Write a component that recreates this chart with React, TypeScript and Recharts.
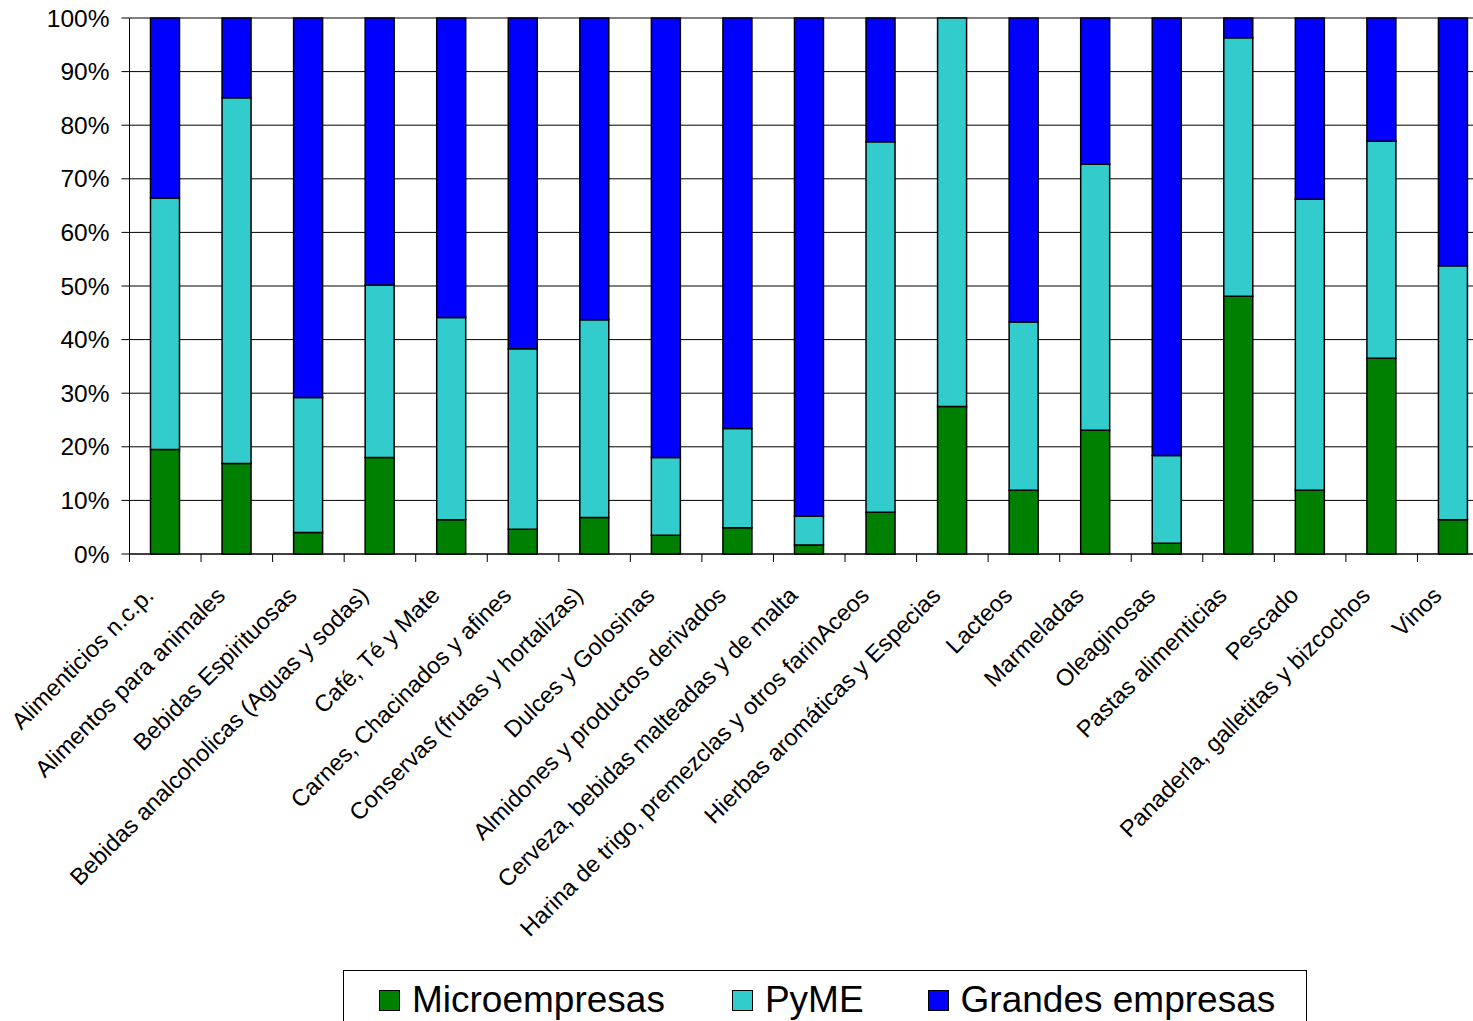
import { Bar, BarChart, CartesianGrid, XAxis, YAxis } from "recharts";

const categories = [
  "Alimenticios n.c.p.",
  "Alimentos para animales",
  "Bebidas Espirituosas",
  "Bebidas analcoholicas (Aguas y sodas)",
  "Café, Té y Mate",
  "Carnes, Chacinados y afines",
  "Conservas (frutas y hortalizas)",
  "Dulces y Golosinas",
  "Almidones y productos derivados",
  "Cerveza, bebidas malteadas y de malta",
  "Harina de trigo, premezclas y otros farinAceos",
  "Hierbas aromáticas y Especias",
  "Lacteos",
  "Marmeladas",
  "Oleaginosas",
  "Pastas alimenticias",
  "Pescado",
  "Panaderla, galletitas y bizcochos",
  "Vinos",
];

const micro = [19.5, 16.9, 4.0, 18.0, 6.4, 4.6, 6.8, 3.5, 4.9, 1.7, 7.8, 27.5, 11.9, 23.1, 2.0, 48.1, 11.9, 36.5, 6.4];
const pyme = [46.9, 68.2, 25.2, 32.2, 37.7, 33.7, 36.9, 14.5, 18.5, 5.4, 69.1, 72.5, 31.4, 49.6, 16.4, 48.2, 54.3, 40.5, 47.4];
const grandes = [33.6, 14.9, 70.8, 49.8, 55.9, 61.7, 56.3, 82.0, 76.6, 92.9, 23.1, 0, 56.7, 27.3, 81.6, 3.7, 33.8, 23.0, 46.2];

const yTicks = [0, 0.1, 0.2, 0.3, 0.4, 0.5, 0.6, 0.7, 0.8, 0.9, 1];

const series = [
  { key: "micro", name: "Microempresas", color: "#008000" },
  { key: "pyme", name: "PyME", color: "#33CCCC" },
  { key: "grandes", name: "Grandes empresas", color: "#0000FF" },
];

const data = categories.map((name, i) => ({
  name,
  micro: micro[i],
  pyme: pyme[i],
  grandes: grandes[i],
}));

const FONT = "'Liberation Sans', Arial, sans-serif";

function CategoryTick(props: any) {
  const { x, y, payload, index } = props;
  const half = payload?.offset ?? 0;
  return (
    <g>
      <line x1={x - half} x2={x - half} y1={y} y2={y + 8} stroke="#000" />
      {index === categories.length - 1 && (
        <line x1={x + half} x2={x + half} y1={y} y2={y + 8} stroke="#000" />
      )}
      <g transform={`translate(${x - 16},${y + 37})`}>
        <text
          textAnchor="end"
          transform="rotate(-45)"
          dy="0.35em"
          fontSize={23.5}
          fontFamily={FONT}
          fill="#000"
        >
          {payload.value}
        </text>
      </g>
    </g>
  );
}

export default function App() {
  return (
    <div
      style={{
        position: "absolute",
        left: 0,
        top: 0,
        width: 1473,
        height: 1021,
        overflow: "hidden",
        background: "#fff",
      }}
    >
      <BarChart
        width={1495}
        height={1021}
        data={data}
        stackOffset="expand"
        barSize={29}
        margin={{ top: 18, right: 6, left: 0, bottom: 0 }}
      >
        <CartesianGrid vertical={false} stroke="#000" horizontalValues={yTicks} />
        <XAxis
          dataKey="name"
          interval={0}
          height={467}
          tickLine={false}
          tickSize={0}
          tickMargin={0}
          axisLine={{ stroke: "#000" }}
          tick={<CategoryTick />}
        />
        <YAxis
          width={129.5}
          domain={[0, 1]}
          ticks={yTicks}
          tickSize={8}
          tickMargin={12}
          axisLine={{ stroke: "#000" }}
          tickLine={{ stroke: "#000" }}
          tickFormatter={(v: number) => `${Math.round(v * 100)}%`}
          tick={{ fontSize: 24.5, fontFamily: FONT, fill: "#000" }}
        />
        {series.map((s) => (
          <Bar
            key={s.key}
            dataKey={s.key}
            name={s.name}
            stackId="a"
            fill={s.color}
            stroke="#000"
            strokeWidth={1.5}
            isAnimationActive={false}
          />
        ))}
      </BarChart>
      <div
        style={{
          position: "absolute",
          left: 343,
          top: 970,
          width: 964,
          height: 70,
          border: "1px solid #000",
          boxSizing: "border-box",
          display: "flex",
          alignItems: "center",
          paddingLeft: 35,
          paddingBottom: 10,
          fontFamily: FONT,
          fontSize: 37,
          color: "#000",
          background: "#fff",
        }}
      >
        {series.map((s, i) => (
          <div
            key={s.key}
            style={{
              display: "flex",
              alignItems: "center",
              marginLeft: i === 0 ? 0 : i === 1 ? 67 : 64,
              lineHeight: "42px",
            }}
          >
            <span
              style={{
                display: "inline-block",
                width: 19,
                height: 19,
                background: s.color,
                border: "1.5px solid #000",
                marginRight: 12,
              }}
            />
            <span>{s.name}</span>
          </div>
        ))}
      </div>
    </div>
  );
}
